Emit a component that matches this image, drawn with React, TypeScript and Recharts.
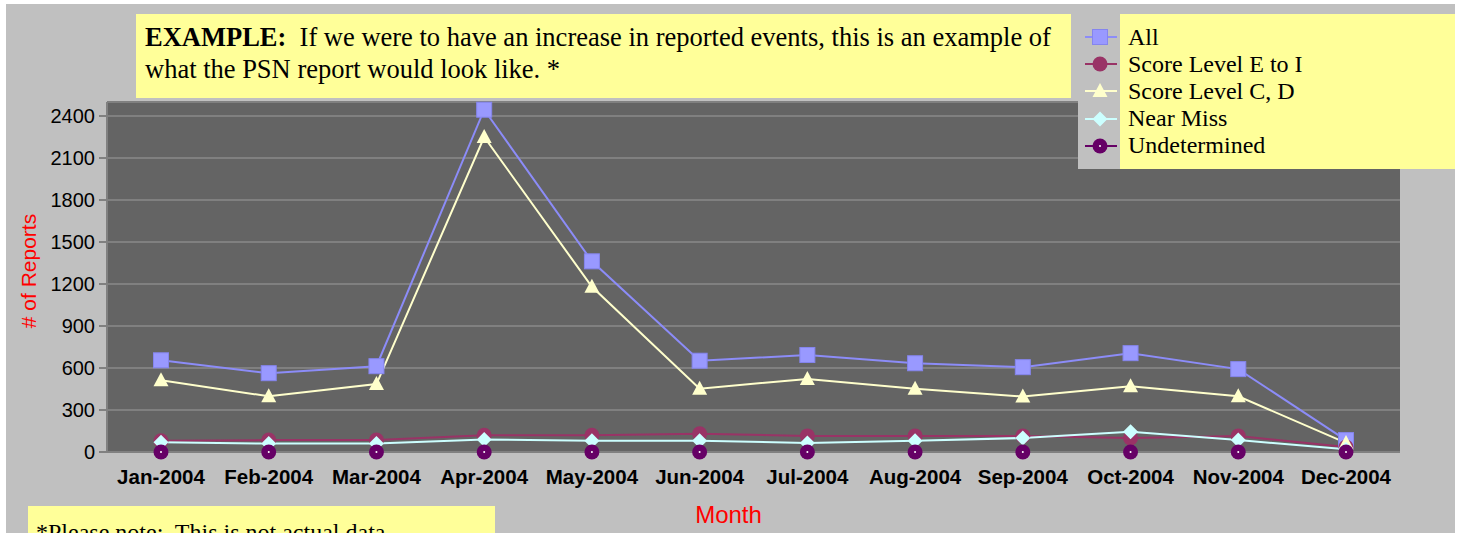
import React from 'react';
import { LineChart, Line, XAxis, YAxis, CartesianGrid, ReferenceLine } from 'recharts';

// monthly report counts
const months = [
  'Jan-2004', 'Feb-2004', 'Mar-2004', 'Apr-2004', 'May-2004', 'Jun-2004',
  'Jul-2004', 'Aug-2004', 'Sep-2004', 'Oct-2004', 'Nov-2004', 'Dec-2004',
];
const allReports = [655, 563, 613, 2445, 1362, 652, 693, 634, 606, 706, 592, 85];
const scoreEtoI = [80, 85, 85, 120, 120, 130, 115, 115, 115, 100, 115, 35];
const scoreCD = [512, 398, 485, 2250, 1180, 452, 522, 452, 396, 470, 398, 65];
const nearMiss = [70, 60, 60, 90, 80, 80, 65, 80, 100, 145, 85, 20];
const undetermined = [0, 0, 0, 0, 0, 0, 0, 0, 0, 0, 0, 0];
const yTicks = [0, 300, 600, 900, 1200, 1500, 1800, 2100, 2400];
const yMax = 2500;

type Shape = 'square' | 'circle' | 'triangle' | 'diamond' | 'dotCircle';

interface Series {
  key: string;
  name: string;
  values: number[];
  line: string;
  fill: string;
  shape: Shape;
}

const series: Series[] = [
  { key: 'all', name: 'All', values: allReports, line: '#8c8cf8', fill: '#9999ff', shape: 'square' },
  { key: 'ei', name: 'Score Level E to I', values: scoreEtoI, line: '#993366', fill: '#993366', shape: 'circle' },
  { key: 'cd', name: 'Score Level C, D', values: scoreCD, line: '#ffffcc', fill: '#ffffcc', shape: 'triangle' },
  { key: 'nm', name: 'Near Miss', values: nearMiss, line: '#ccffff', fill: '#ccffff', shape: 'diamond' },
  { key: 'und', name: 'Undetermined', values: undetermined, line: '#660066', fill: '#660066', shape: 'dotCircle' },
];

const data = months.map((month, i) => {
  const row: { [k: string]: string | number } = { month };
  series.forEach(s => { row[s.key] = s.values[i]; });
  return row;
});

const marker = (shape: Shape, cx: number, cy: number, fill: string, k?: string) => {
  switch (shape) {
    case 'square':
      return <rect key={k} x={cx - 7.5} y={cy - 7.5} width={15} height={15} fill={fill} stroke="#8585ee" strokeWidth={1} />;
    case 'circle':
      return <circle key={k} cx={cx} cy={cy} r={7.5} fill={fill} />;
    case 'triangle':
      return <polygon key={k} points={`${cx},${cy - 8} ${cx + 7.5},${cy + 6} ${cx - 7.5},${cy + 6}`} fill={fill} />;
    case 'diamond':
      return <polygon key={k} points={`${cx},${cy - 7.5} ${cx + 7.5},${cy} ${cx},${cy + 7.5} ${cx - 7.5},${cy}`} fill={fill} />;
    default:
      return (
        <g key={k}>
          <circle cx={cx} cy={cy} r={7.5} fill={fill} />
          <circle cx={cx} cy={cy} r={1} fill="#ffffff" />
        </g>
      );
  }
};

const serif = '"Liberation Serif", "Times New Roman", serif';
const sans = '"Liberation Sans", Arial, sans-serif';

export default function App() {
  return (
    <div style={{ position: 'absolute', left: 0, top: 0, width: 1460, height: 533, background: '#ffffff', overflow: 'hidden' }}>
      <div style={{ position: 'absolute', left: 6, top: 4, width: 1449, height: 529, background: '#c0c0c0' }} />

      <div style={{ position: 'absolute', left: 0, top: 0 }}>
        <LineChart width={1460} height={533} data={data} margin={{ top: 102, right: 60, left: 0, bottom: 0 }}>
          <CartesianGrid vertical={false} fill="#646464" fillOpacity={1} stroke="#808080" strokeWidth={2} />
          <ReferenceLine y={yMax} stroke="#808080" strokeWidth={2} />
          <XAxis
            dataKey="month"
            interval={0}
            height={81}
            padding={{ left: 54, right: 54 }}
            tickLine={false}
            tickMargin={11}
            axisLine={{ stroke: '#808080', strokeWidth: 2 }}
            tick={{ fill: '#000000', fontSize: 20.5, fontWeight: 'bold', fontFamily: sans }}
            label={({ viewBox }: any) => (
              <text
                x={viewBox.x + viewBox.width / 2 - 25}
                y={viewBox.y + 62}
                textAnchor="middle"
                dominantBaseline="central"
                fill="#ff0000"
                fontSize={24}
                fontFamily='"Liberation Sans Narrow", "Arial Narrow", sans-serif'
              >
                Month
              </text>
            )}
          />
          <YAxis
            width={107}
            domain={[0, yMax]}
            ticks={yTicks}
            interval={0}
            tickSize={8}
            tickMargin={4}
            tickLine={{ stroke: '#808080', strokeWidth: 2 }}
            axisLine={{ stroke: '#808080', strokeWidth: 2 }}
            tick={{ fill: '#000000', fontSize: 20, fontFamily: sans }}
            label={({ viewBox }: any) => (
              <text
                x={28}
                y={viewBox.y + viewBox.height / 2 - 6}
                transform={`rotate(-90 28 ${viewBox.y + viewBox.height / 2 - 6})`}
                textAnchor="middle"
                dominantBaseline="central"
                fill="#ff0000"
                fontSize={21}
                fontFamily={sans}
              >
                # of Reports
              </text>
            )}
          />
          <YAxis
            yAxisId="r"
            orientation="right"
            width={0}
            domain={[0, yMax]}
            tick={false}
            tickLine={false}
            axisLine={{ stroke: '#808080', strokeWidth: 2 }}
          />
          {series.map(s => (
            <Line
              key={s.key}
              dataKey={s.key}
              name={s.name}
              type="linear"
              stroke={s.line}
              strokeWidth={2}
              isAnimationActive={false}
              activeDot={false}
              dot={(p: any) => marker(s.shape, p.cx, p.cy, s.fill, `${s.key}-${p.index}`)}
            />
          ))}
        </LineChart>
      </div>

      {/* note box at top */}
      <div
        style={{
          position: 'absolute', left: 136, top: 14, width: 935, height: 84, background: '#ffff99',
          fontFamily: serif, fontSize: 26.5, lineHeight: '32px', color: '#000', boxSizing: 'border-box',
          padding: '7px 0 0 9px', whiteSpace: 'nowrap',
        }}
      >
        <b>EXAMPLE:</b>&nbsp; If we were to have an increase in reported events, this is an example of
        <br />
        what the PSN report would look like. *
      </div>

      {/* legend */}
      <div style={{ position: 'absolute', left: 1078, top: 14, width: 42, height: 155, background: '#c0c0c0' }} />
      <div style={{ position: 'absolute', left: 1120, top: 14, width: 335, height: 155, background: '#ffff99' }} />
      <div style={{ position: 'absolute', left: 1083, top: 23.5 }}>
        {series.map(s => (
          <div key={s.key} style={{ height: 27.2, display: 'flex', alignItems: 'center' }}>
            <svg width={36} height={20} style={{ display: 'block' }}>
              <line x1={2} y1={10} x2={34} y2={10} stroke={s.line} strokeWidth={2} />
              {marker(s.shape, 17, 10, s.fill)}
            </svg>
            <span style={{ marginLeft: 9, fontFamily: serif, fontSize: 24, color: '#000', whiteSpace: 'nowrap' }}>
              {s.name}
            </span>
          </div>
        ))}
      </div>

      {/* bottom note */}
      <div
        style={{
          position: 'absolute', left: 28, top: 506, width: 467, height: 40, background: '#ffff99',
          fontFamily: serif, fontSize: 24, lineHeight: '32px', color: '#000', boxSizing: 'border-box',
          padding: '10px 0 0 8px', whiteSpace: 'nowrap',
        }}
      >
        *Please note:&nbsp; This is not actual data
      </div>
    </div>
  );
}
